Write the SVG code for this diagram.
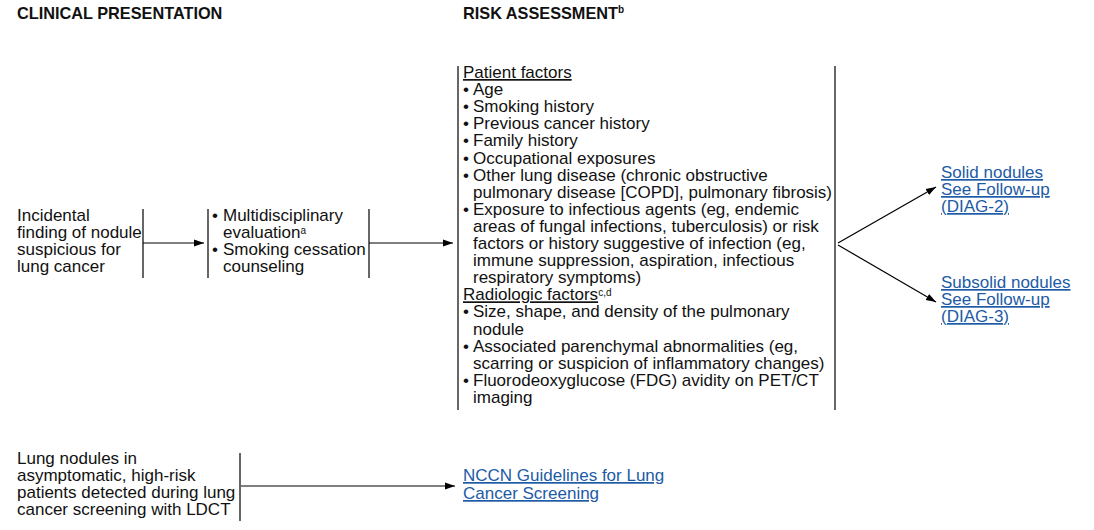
<svg xmlns="http://www.w3.org/2000/svg" width="1094" height="530" viewBox="0 0 1094 530">
<defs>
<marker id="ah" viewBox="0 0 10 10" refX="10" refY="5" markerWidth="10" markerHeight="10" markerUnits="userSpaceOnUse" orient="auto">
<path d="M0,1.5 L10,5 L0,8.5 z" fill="#000"/>
</marker>
<style>
text{font-family:"Liberation Sans",Arial,sans-serif;font-size:17px;fill:#111}
.hd{font-weight:bold;font-size:16.3px}
.sup{font-size:10px}
.lk{fill:#1d5ba6;text-decoration:underline}
.u{text-decoration:underline}
.ln{stroke:#000;stroke-width:1.2;fill:none}
</style>
</defs>
<rect width="1094" height="530" fill="#fff"/>
<g id="headers">
<text class="hd" x="17" y="19">CLINICAL PRESENTATION</text>
<text class="hd" x="463" y="19">RISK ASSESSMENT<tspan class="sup" dy="-6">b</tspan></text>
</g>
<g id="connectors">
<line class="ln" x1="143" y1="209" x2="143" y2="278"/>
<line class="ln" x1="208" y1="209" x2="208" y2="278"/>
<line class="ln" x1="369" y1="209" x2="369" y2="278"/>
<line class="ln" x1="458" y1="66" x2="458" y2="410"/>
<line class="ln" x1="835" y1="66" x2="835" y2="410"/>
<line class="ln" x1="240" y1="453" x2="240" y2="521"/>
<line class="ln" x1="143" y1="243" x2="204" y2="243" marker-end="url(#ah)"/>
<line class="ln" x1="369" y1="243" x2="453" y2="243" marker-end="url(#ah)"/>
<line class="ln" x1="838" y1="243" x2="936" y2="187" marker-end="url(#ah)"/>
<line class="ln" x1="838" y1="245" x2="936" y2="302" marker-end="url(#ah)"/>
<line class="ln" x1="241" y1="486" x2="455" y2="486" marker-end="url(#ah)"/>
</g>
<g id="incidental">
<text x="17" y="221">Incidental</text>
<text x="17" y="238">finding of nodule</text>
<text x="17" y="255">suspicious for</text>
<text x="17" y="272">lung cancer</text>
</g>
<g id="evaluation">
<text x="212" y="221">•</text>
<text x="223" y="221">Multidisciplinary</text>
<text x="223" y="238">evaluation<tspan class="sup" dy="-4">a</tspan></text>
<text x="212" y="255">•</text>
<text x="223" y="255">Smoking cessation</text>
<text x="223" y="272">counseling</text>
</g>
<g id="risk-assessment">
<text class="u" x="463" y="78">Patient factors</text>
<text x="463" y="95.1">•</text><text x="473" y="95.1">Age</text>
<text x="463" y="112.2">•</text><text x="473" y="112.2">Smoking history</text>
<text x="463" y="129.3">•</text><text x="473" y="129.3">Previous cancer history</text>
<text x="463" y="146.4">•</text><text x="473" y="146.4">Family history</text>
<text x="463" y="163.5">•</text><text x="473" y="163.5">Occupational exposures</text>
<text x="463" y="180.6">•</text><text x="473" y="180.6">Other lung disease (chronic obstructive</text>
<text x="473" y="197.7">pulmonary disease [COPD], pulmonary fibrosis)</text>
<text x="463" y="214.8">•</text><text x="473" y="214.8">Exposure to infectious agents (eg, endemic</text>
<text x="473" y="231.9">areas of fungal infections, tuberculosis) or risk</text>
<text x="473" y="249">factors or history suggestive of infection (eg,</text>
<text x="473" y="266.1">immune suppression, aspiration, infectious</text>
<text x="473" y="283.2">respiratory symptoms)</text>
<text x="463" y="300.3"><tspan class="u">Radiologic factors</tspan><tspan class="sup" dy="-4">c,d</tspan></text>
<text x="463" y="317.4">•</text><text x="473" y="317.4">Size, shape, and density of the pulmonary</text>
<text x="473" y="334.5">nodule</text>
<text x="463" y="351.6">•</text><text x="473" y="351.6">Associated parenchymal abnormalities (eg,</text>
<text x="473" y="368.7">scarring or suspicion of inflammatory changes)</text>
<text x="463" y="385.8">•</text><text x="473" y="385.8">Fluorodeoxyglucose (FDG) avidity on PET/CT</text>
<text x="473" y="402.9">imaging</text>
</g>
<g id="solid-nodules">
<text class="lk" x="941" y="178">Solid nodules</text>
<text class="lk" x="941" y="195">See Follow-up</text>
<text class="lk" x="941" y="212">(DIAG-2)</text>
</g>
<g id="subsolid-nodules">
<text class="lk" x="941" y="288">Subsolid nodules</text>
<text class="lk" x="941" y="305">See Follow-up</text>
<text class="lk" x="941" y="322">(DIAG-3)</text>
</g>
<g id="screening">
<text x="17" y="464">Lung nodules in</text>
<text x="17" y="481">asymptomatic, high-risk</text>
<text x="17" y="498">patients detected during lung</text>
<text x="17" y="515">cancer screening with LDCT</text>
</g>
<g id="nccn-link">
<text class="lk" x="463" y="481">NCCN Guidelines for Lung</text>
<text class="lk" x="463" y="499">Cancer Screening</text>
</g>
</svg>
